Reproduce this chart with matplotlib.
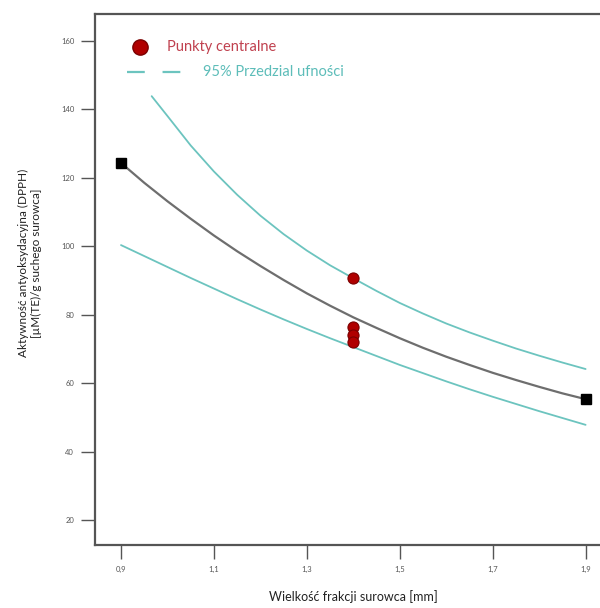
"""
Wykres: aktywność antyoksydacyjna vs wielkość frakcji surowca
"""

import matplotlib
matplotlib.use('Agg')
import matplotlib.pyplot as plt
from matplotlib.ticker import FuncFormatter

plt.rcParams['font.family'] = ['Lato', 'DejaVu Sans']

# dane
x_grid = [0.9, 0.95, 1.0, 1.05, 1.1, 1.15, 1.2, 1.25, 1.3, 1.35, 1.4,
          1.45, 1.5, 1.55, 1.6, 1.65, 1.7, 1.75, 1.8, 1.85, 1.9]
model = [124.3, 118.5, 113.1, 108.0, 103.1, 98.5, 94.2, 90.1, 86.2, 82.6, 79.2,
         76.1, 73.1, 70.3, 67.7, 65.3, 63.0, 60.9, 58.9, 57.0, 55.3]
lower_ci = [100.3, 97.1, 93.9, 90.7, 87.6, 84.5, 81.5, 78.6, 75.8, 73.1, 70.5,
            67.9, 65.3, 62.9, 60.5, 58.2, 56.0, 53.9, 51.8, 49.8, 47.8]

x_upper = [0.966, 1.0, 1.05, 1.1, 1.15, 1.2, 1.25, 1.3, 1.35, 1.4,
           1.45, 1.5, 1.55, 1.6, 1.65, 1.7, 1.75, 1.8, 1.85, 1.9]
upper_ci = [143.8, 138.0, 129.4, 121.8, 115.0, 108.9, 103.5, 98.7, 94.4, 90.6,
            86.9, 83.4, 80.3, 77.4, 74.8, 72.4, 70.1, 68.0, 66.0, 64.1]

x_design = [0.9, 1.9]
y_design = [124.3, 55.3]

x_center = [1.4, 1.4, 1.4, 1.4]
y_center = [90.6, 76.5, 74.0, 72.1]

x_ticks = [0.9, 1.1, 1.3, 1.5, 1.7, 1.9]
y_ticks = [20, 40, 60, 80, 100, 120, 140, 160]

teal = '#6cc4bf'
gray = '#6e6e6e'
red = '#b00000'

fig = plt.figure(figsize=(6.0, 6.08), dpi=100)
ax = fig.add_axes([0.1583, 0.1036, 0.8417, 0.8734])

# linie modelu i przedziału ufności
ax.plot(x_upper, upper_ci, color=teal, linewidth=1.3, solid_capstyle='round')
ax.plot(x_grid, lower_ci, color=teal, linewidth=1.3, solid_capstyle='round')
ax.plot(x_grid, model, color=gray, linewidth=1.6)

# punkty
ax.plot(x_design, y_design, linestyle='none', marker='s', markersize=7,
        color='black')
ax.plot(x_center, y_center, linestyle='none', marker='o', markersize=8,
        markerfacecolor=red, markeredgecolor='#7a0000', markeredgewidth=0.8)

ax.set_xlim(0.844, 1.931)
ax.set_ylim(12.7, 167.8)
ax.set_xticks(x_ticks)
ax.set_yticks(y_ticks)
ax.xaxis.set_major_formatter(FuncFormatter(lambda v, p: f'{v:.1f}'.replace('.', ',')))
ax.tick_params(direction='out', length=10, width=1.0, color='#555555',
               labelsize=5.5, labelcolor='#555555', pad=5)

for side in ['left', 'top', 'bottom']:
    ax.spines[side].set_color('#555555')
    ax.spines[side].set_linewidth(1.6)
ax.spines['right'].set_visible(False)

# legenda rysowana ręcznie
ax.plot([0.089], [0.938], transform=ax.transAxes, marker='o', markersize=11,
        markerfacecolor=red, markeredgecolor='#7a0000', clip_on=False)
ax.text(0.143, 0.938, 'Punkty centralne', transform=ax.transAxes,
        color='#c0414f', fontsize=10.5, va='center', ha='left')
ax.plot([0.063, 0.184], [0.8907, 0.8907], transform=ax.transAxes,
        color=teal, linewidth=1.6, dashes=(8, 8), clip_on=False)
ax.text(0.214, 0.8907, '95% Przedzial ufności', transform=ax.transAxes,
        color='#5dbdb9', fontsize=10.5, va='center', ha='left')

# opisy osi
fig.text(353 / 600, 1 - 597 / 608, 'Wielkość frakcji surowca [mm]',
         ha='center', va='center', fontsize=9, color='#222222')
fig.text(30 / 600, 1 - 263 / 608,
         'Aktywność antyoksydacyjna (DPPH)\n[µM(TE)/g suchego surowca]',
         ha='center', va='center', rotation=90, fontsize=8.5,
         color='#222222', linespacing=1.15)

fig.savefig('out.png', dpi=100)
